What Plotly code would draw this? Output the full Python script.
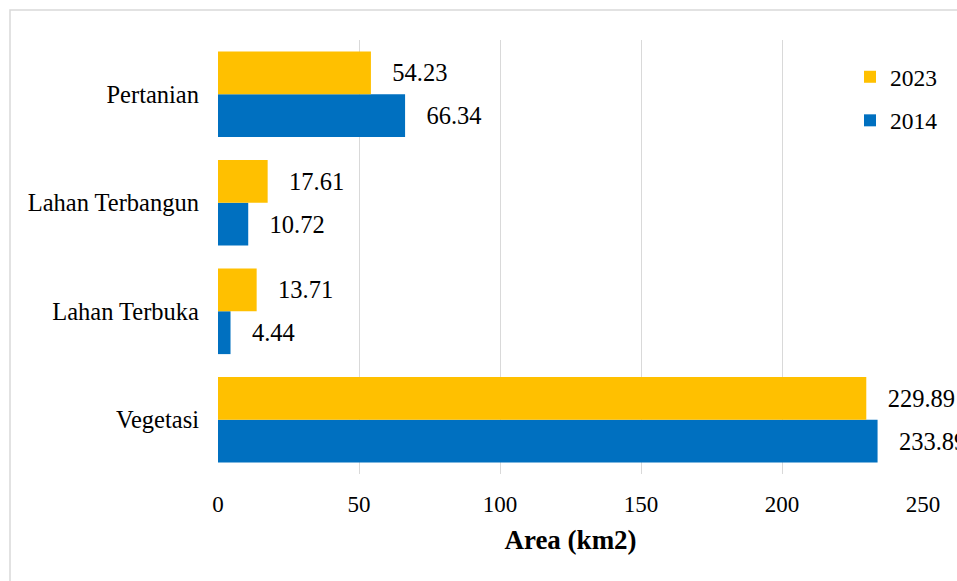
import plotly.graph_objects as go

categories = ["Vegetasi", "Lahan Terbuka", "Lahan Terbangun", "Pertanian"]
values_2014 = [233.89, 4.44, 10.72, 66.34]
values_2023 = [229.89, 13.71, 17.61, 54.23]
x_ticks = [0, 50, 100, 150, 200, 250]

FONT = "Liberation Serif"
PAD = "\u00a0\u00a0\u00a0"

fig = go.Figure()
fig.add_trace(go.Bar(
    y=categories, x=values_2014, name="2014", orientation="h",
    marker=dict(color="#0070C0", line=dict(width=0)),
    texttemplate=PAD + "%{x:.2f}", textposition="outside",
    textfont=dict(family=FONT, size=24.5, color="#000000"),
    cliponaxis=False, constraintext="none", legendgroup="a", legendrank=2,
))
fig.add_trace(go.Bar(
    y=categories, x=values_2023, name="2023", orientation="h",
    marker=dict(color="#FFC000", line=dict(width=0)),
    texttemplate=PAD + "%{x:.2f}", textposition="outside",
    textfont=dict(family=FONT, size=24.5, color="#000000"),
    cliponaxis=False, constraintext="none", legendgroup="b", legendrank=1,
))

L, R, T, B = 218, 34, 40, 107
W, H = 957, 581
pw, ph = W - L - R, H - T - B

fig.update_layout(
    width=W, height=H,
    margin=dict(l=L, r=R, t=T, b=B),
    paper_bgcolor="white", plot_bgcolor="white",
    barmode="group", bargap=0.21, bargroupgap=0,
    font=dict(family=FONT, size=23, color="#000000"),
    showlegend=True,
    legend=dict(
        x=(850 - L) / pw, y=1 - (55 - T) / ph, xanchor="left", yanchor="top",
        traceorder="grouped", tracegroupgap=10,
        font=dict(family=FONT, size=23.5, color="#000000"),
        bgcolor="rgba(0,0,0,0)",
    ),
    xaxis=dict(
        range=[0, 250], tickvals=x_ticks, showgrid=True, gridcolor="#D9D9D9",
        gridwidth=1, zeroline=False, showline=False, ticks="",
        ticklabelstandoff=14, tickfont=dict(family=FONT, size=23),
        title=dict(text="<b>Area (km2)</b>", font=dict(family=FONT, size=27), standoff=14),
    ),
    yaxis=dict(
        categoryorder="array", categoryarray=categories, showgrid=False,
        zeroline=False, showline=False, ticks="", ticklabelstandoff=18,
        tickfont=dict(family=FONT, size=24.5),
    ),
    shapes=[dict(
        type="rect", xref="paper", yref="paper",
        x0=(10 - L) / pw, x1=(965 - L) / pw,
        y0=1 + (T - 590) / ph, y1=1 + (T - 10) / ph,
        line=dict(color="#D9D9D9", width=1.5), fillcolor="rgba(0,0,0,0)", layer="below",
    )],
)

fig.write_html("out.html")
